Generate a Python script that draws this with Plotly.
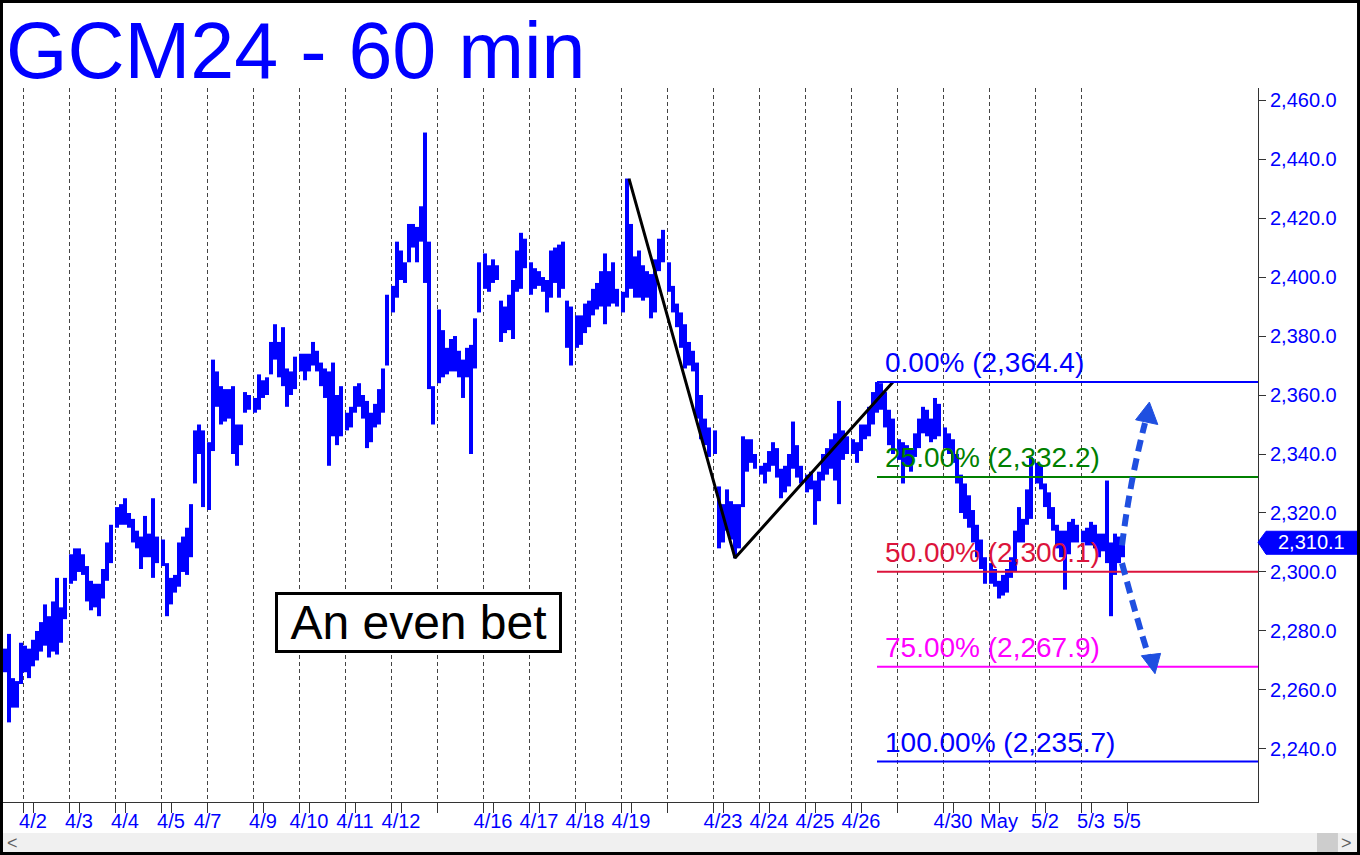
import plotly.graph_objects as go

# ---------------- data ----------------
HOURS_PER_SESSION = 23

# 2-hour bars; first five belong to the partial 4/1 session, then 11 bars per session
bar_high = [
    2274, 2279, 2264, 2263, 2276,
    2275, 2274, 2277, 2280, 2283, 2289, 2285, 2290, 2298, 2288, 2298,
    2306, 2308, 2308, 2306, 2302, 2297, 2296, 2296, 2301, 2310, 2316,
    2322, 2323, 2325, 2320, 2318, 2314, 2312, 2319, 2313, 2325, 2312,
    2311, 2303, 2298, 2299, 2310, 2312, 2315, 2323, 2348, 2350, 2348,
    2344, 2372, 2368, 2363, 2362, 2362, 2363, 2350, 2350, 2361, 2360,
    2359, 2367, 2365, 2366, 2378, 2384, 2378, 2383, 2369, 2368, 2373,
    2374, 2374, 2374, 2378, 2375, 2371, 2369, 2368, 2371, 2360, 2363,
    2354, 2356, 2363, 2364, 2360, 2358, 2354, 2357, 2362, 2369, 2394,
    2397, 2412, 2409, 2405, 2418, 2418, 2417, 2424, 2449, 2412, 2363,
    2389, 2382, 2376, 2379, 2380, 2375, 2372, 2376, 2377, 2386, 2405,
    2408, 2404, 2406, 2404, 2392, 2390, 2394, 2399, 2409, 2415, 2413,
    2405, 2403, 2402, 2400, 2399, 2409, 2410, 2411, 2412, 2392, 2390,
    2387, 2387, 2391, 2392, 2396, 2398, 2402, 2408, 2402, 2405, 2396,
    2395, 2433.4, 2418, 2407, 2409, 2404, 2402, 2401, 2406, 2413, 2416,
    2405, 2397, 2391, 2388, 2384, 2378, 2375, 2371, 2360, 2352, 2349,
    2348, 2329, 2323, 2328, 2324, 2323, 2323, 2346, 2345, 2345, 2340,
    2336, 2337, 2341, 2344, 2342, 2335, 2336, 2340, 2351, 2343, 2336,
    2333, 2334, 2331, 2334, 2340, 2342, 2345, 2347, 2358, 2348, 2346,
    2345, 2344, 2350, 2350, 2356, 2361, 2364.4, 2364, 2361, 2355, 2352,
    2345, 2344, 2343, 2342, 2347, 2352, 2356, 2355, 2352, 2359, 2357,
    2349, 2347, 2345, 2340, 2333, 2330, 2326, 2321, 2316, 2311, 2305,
    2303, 2301, 2297, 2299, 2301, 2305, 2314, 2322, 2318, 2328, 2339,
    2337, 2336, 2330, 2327, 2322, 2316, 2314, 2314, 2317, 2318, 2316,
    2314, 2315, 2317, 2316, 2313, 2313, 2331, 2310, 2313, 2312, 2312,
]
bar_low = [
    2266, 2249, 2254, 2254, 2262,
    2266, 2264, 2268, 2270, 2273, 2275, 2271, 2273, 2272, 2276, 2284,
    2296, 2297, 2300, 2299, 2290, 2287, 2288, 2285, 2291, 2297, 2303,
    2315, 2316, 2316, 2315, 2310, 2308, 2301, 2305, 2305, 2298, 2303,
    2302, 2285, 2289, 2293, 2295, 2300, 2299, 2305, 2330, 2340, 2322,
    2321, 2341, 2356, 2350, 2351, 2352, 2340, 2336, 2343, 2354, 2355,
    2354, 2355, 2359, 2360, 2367, 2372, 2366, 2363, 2356, 2360, 2362,
    2368, 2365, 2368, 2370, 2368, 2363, 2359, 2336, 2346, 2343, 2346,
    2348, 2349, 2354, 2356, 2352, 2342, 2344, 2349, 2350, 2354, 2370,
    2388, 2393, 2399, 2398, 2405, 2410, 2405, 2412, 2398, 2362, 2350,
    2364, 2366, 2367, 2368, 2368, 2366, 2359, 2366, 2340, 2369, 2388,
    2396, 2395, 2398, 2399, 2378, 2381, 2382, 2379, 2395, 2396, 2403,
    2394, 2396, 2397, 2395, 2388, 2393, 2398, 2393, 2396, 2376, 2370,
    2376, 2377, 2381, 2383, 2387, 2389, 2390, 2384, 2390, 2391, 2390,
    2388, 2393, 2396, 2393, 2393, 2392, 2393, 2386, 2388, 2402, 2405,
    2395, 2388, 2383, 2376, 2369, 2370, 2368, 2352, 2345, 2343, 2339,
    2340, 2308, 2310, 2314, 2311, 2304.7, 2308, 2322, 2334, 2337, 2335,
    2333, 2330, 2334, 2336, 2332, 2325, 2327, 2329, 2335, 2332, 2330,
    2327, 2328, 2316, 2324, 2331, 2333, 2335, 2331, 2323, 2338, 2340,
    2340, 2337, 2341, 2345, 2346, 2350, 2354, 2355, 2349, 2343, 2340,
    2338, 2330, 2336, 2334, 2339, 2342, 2347, 2346, 2344, 2345, 2346,
    2342, 2340, 2337, 2330, 2320, 2318, 2315, 2310, 2305, 2301, 2296,
    2296, 2295, 2291, 2292, 2293, 2298, 2300, 2310, 2310, 2316, 2318,
    2330, 2328, 2322, 2318, 2314, 2308, 2305, 2294, 2306, 2310, 2310,
    2310, 2309, 2309, 2308, 2305, 2307, 2303, 2285, 2299, 2303, 2305,
]
last_price = 2310.1

session_labels = ["4/2", "4/3", "4/4", "4/5", "4/8", "4/9", "4/10", "4/11", "4/12",
                  "4/15", "4/16", "4/17", "4/18", "4/19", "4/22", "4/23", "4/24",
                  "4/25", "4/26", "4/29", "4/30", "5/1", "5/2", "5/3"]

tick_labels = ["4/2", "4/3", "4/4", "4/5", "4/7", "4/9", "4/10", "4/11", "4/12",
               "4/16", "4/17", "4/18", "4/19", "4/23", "4/24", "4/25", "4/26",
               "4/30", "May", "5/2", "5/3", "5/5"]
tick_session = [0, 1, 2, 3, 4, 5, 6, 7, 8, 10, 11, 12, 13, 15, 16, 17, 18, 20, 21, 22, 23, 24]
tick_offset = [5, 5, 5, 5, 0.3, 5, 5, 5, 5, 5, 5, 5, 5, 5, 5, 5, 5, 5, 5, 5, 5, 0]

y_ticks = [2240, 2260, 2280, 2300, 2320, 2340, 2360, 2380, 2400, 2420, 2440, 2460]

# ABC swing and Fibonacci projection
swing_labels = ["A", "B", "C"]
swing_price = [2433.4, 2304.7, 2364.4]
swing_session = [13, 15, 18]
swing_offset = [4, 11, 21]

fib_pct = ["0.00%", "25.00%", "50.00%", "75.00%", "100.00%"]
fib_price = [2364.4, 2332.2, 2300.1, 2267.9, 2235.7]
fib_color = ["#0000FF", "#008000", "#DC143C", "#FF00FF", "#0000FF"]

# ---------------- derived x positions (trading-hour index) ----------------
n_pre = 5
bar_x = [-10 + 1 + 2 * i for i in range(n_pre)]
for s in range(len(session_labels)):
    for j in range(11):
        bar_x.append(s * HOURS_PER_SESSION + 1 + 2 * j)
bar_x = bar_x[:len(bar_high)]

tick_x = [s * HOURS_PER_SESSION + o for s, o in zip(tick_session, tick_offset)]
grid_x = [s * HOURS_PER_SESSION for s in range(len(session_labels))]
swing_x = [s * HOURS_PER_SESSION + o for s, o in zip(swing_session, swing_offset)]

FONT = "Liberation Sans, Arial, sans-serif"
BLUE = "#0000FF"
ARROW = "#1F4FE0"

fig = go.Figure()

fig.add_trace(go.Ohlc(
    x=bar_x, open=bar_low, high=bar_high, low=bar_low, close=bar_high,
    increasing=dict(line=dict(color=BLUE, width=4)),
    decreasing=dict(line=dict(color=BLUE, width=4)),
    tickwidth=0, hoverinfo="skip", name="GCM24",
))

fig.add_trace(go.Scatter(
    x=swing_x, y=swing_price, mode="lines",
    line=dict(color="black", width=3), hoverinfo="skip",
))

shapes = []
annotations = []

fib_x0 = 18 * HOURS_PER_SESSION + 13
for pct, val, col in zip(fib_pct, fib_price, fib_color):
    shapes.append(dict(type="line", xref="x", yref="y", x0=fib_x0, x1=617.5,
                       y0=val, y1=val, line=dict(color=col, width=2)))
    annotations.append(dict(xref="x", yref="y", x=fib_x0 + 3, y=val,
                            xanchor="left", yanchor="bottom", yshift=2,
                            text=f"{pct} ({val:,.1f})", showarrow=False,
                            font=dict(family=FONT, size=28, color=col)))

# dashed scenario arrows
shapes.append(dict(type="path", xref="x", yref="y",
                   path="M 549.5,2309 Q 553.5,2331 561,2350.5",
                   line=dict(color=ARROW, width=6, dash="12px,7px")))
shapes.append(dict(type="path", xref="x", yref="y",
                   path="M 563.2,2357.6 L 556.3,2351.6 L 567.4,2350.0 Z",
                   fillcolor=ARROW, line=dict(color=ARROW, width=1)))
shapes.append(dict(type="path", xref="x", yref="y",
                   path="M 549.5,2303 Q 556.5,2285 563,2271",
                   line=dict(color=ARROW, width=6, dash="12px,7px")))
shapes.append(dict(type="path", xref="x", yref="y",
                   path="M 566.0,2265.5 L 559.2,2271.6 L 568.8,2272.4 Z",
                   fillcolor=ARROW, line=dict(color=ARROW, width=1)))

# last-price tag on the right axis
shapes.append(dict(type="path", xref="paper", yref="y",
                   path=f"M 1.0,{last_price} L 1.0064,{last_price + 3.7} L 1.0789,{last_price + 3.7} "
                        f"L 1.0789,{last_price - 4.1} L 1.0064,{last_price - 4.1} Z",
                   fillcolor=BLUE, line=dict(color=BLUE, width=1)))
annotations.append(dict(xref="paper", yref="y", x=1.0425, y=last_price,
                        text=f"{last_price:,.1f}", showarrow=False,
                        xanchor="center", yanchor="middle",
                        font=dict(family=FONT, size=20, color="white")))

# title
annotations.append(dict(xref="paper", yref="paper", x=0.001, y=1.117,
                        xanchor="left", yanchor="top", text="GCM24 - 60 min",
                        showarrow=False, font=dict(family=FONT, size=79, color=BLUE)))

# comment box
annotations.append(dict(xref="x", yref="y", x=197.75, y=2282.9,
                        xanchor="center", yanchor="middle", text="An even bet",
                        showarrow=False, width=281, height=55, borderpad=0,
                        bordercolor="black", borderwidth=3, bgcolor="white",
                        font=dict(family=FONT, size=48, color="black")))

# scrollbar and window frame (decoration)
shapes.append(dict(type="rect", xref="paper", yref="paper", x0=0, x1=1.0789,
                   y0=-0.0705, y1=-0.0434, fillcolor="#F0F0F0", line=dict(width=0), layer="below"))
shapes.append(dict(type="rect", xref="paper", yref="paper", x0=1.0470, x1=1.0637,
                   y0=-0.0705, y1=-0.0434, fillcolor="#CDCDCD", line=dict(width=0)))
annotations.append(dict(xref="paper", yref="paper", x=0.0072, y=-0.0574, text="<",
                        xanchor="center", yanchor="middle",
                        showarrow=False, font=dict(family=FONT, size=18, color="#606060")))
annotations.append(dict(xref="paper", yref="paper", x=1.0709, y=-0.0574, text=">",
                        xanchor="center", yanchor="middle",
                        showarrow=False, font=dict(family=FONT, size=18, color="#606060")))
shapes.append(dict(type="rect", xref="paper", yref="paper", x0=-0.0012, x1=1.0801,
                   y0=-0.0721, y1=1.1211, line=dict(color="black", width=3)))

fig.update_layout(
    width=1360, height=855,
    margin=dict(l=3, r=102, t=88, b=53),
    paper_bgcolor="white", plot_bgcolor="white",
    showlegend=False,
    shapes=shapes, annotations=annotations,
    xaxis=dict(
        range=[-10, 617.5], tickmode="array", tickvals=tick_x, ticktext=tick_labels,
        ticks="outside", ticklen=10, tickcolor="#333", tickwidth=1,
        ticklabelstandoff=-9,
        showline=True, linecolor="#333", linewidth=1,
        showgrid=False, zeroline=False, fixedrange=True,
        tickfont=dict(family=FONT, size=20, color=BLUE),
        rangeslider=dict(visible=False),
        minor=dict(tickmode="array", tickvals=grid_x, showgrid=True,
                   gridcolor="#444", griddash="4px,3px", gridwidth=1,
                   ticks="outside", ticklen=10, tickcolor="#333"),
    ),
    yaxis=dict(
        side="right", range=[2222.0, 2464.1], tickmode="array", tickvals=y_ticks,
        tickformat=",.1f", ticks="outside", ticklen=7, tickcolor="#333",
        showline=True, linecolor="#333", linewidth=1,
        showgrid=False, zeroline=False, fixedrange=True,
        tickfont=dict(family=FONT, size=20, color=BLUE),
    ),
)

fig.write_html("out.html", config={"displayModeBar": False},
               post_script="document.body.style.margin='0';")
